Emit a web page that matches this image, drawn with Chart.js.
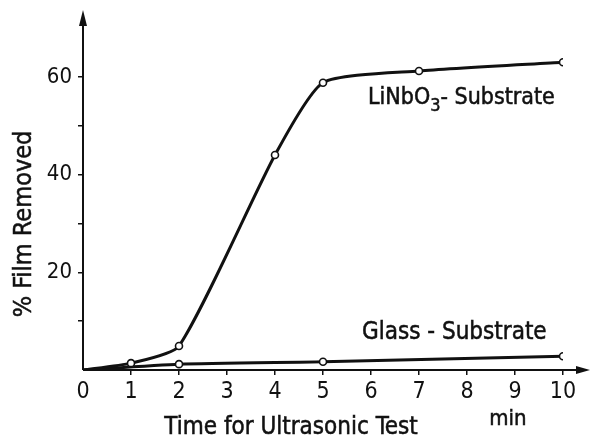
<!DOCTYPE html>
<html>
<head>
<meta charset="utf-8">
<script src="https://cdn.jsdelivr.net/npm/chart.js@4.4.1/dist/chart.umd.min.js"></script>
<style>
  html, body { margin: 0; padding: 0; background: #fff; }
  #wrap { width: 590px; height: 439px; }
</style>
</head>
<body>
<div id="wrap"><canvas id="chart"></canvas></div>
<script>
// --- DATA ---
const timeLiNbO3 = [0, 1, 2, 4, 5, 7, 10];
const removedLiNbO3 = [0, 1.4, 4.9, 44, 58.8, 61.2, 63];
const timeGlass = [0, 2, 5, 10];
const removedGlass = [0, 1.2, 1.7, 2.8];
const xTickValues = [0, 1, 2, 3, 4, 5, 6, 7, 8, 9, 10];
const yTickLabels = [20, 40, 60];

const FONT = "'DejaVu Sans Condensed', 'DejaVu Sans', sans-serif";
const INK = '#111';

function toPoints(xs, ys) {
    return xs.map((x, i) => ({ x, y: ys[i] }));
}

// hide the marker at the origin, draw open circles elsewhere
const pointRadius = ctx => (ctx.raw && ctx.raw.x === 0 ? 0 : 3.5);

// fill + thin stroke so the lettering looks as heavy as the scan
function inkText(ctx, text, x, y) {
    ctx.fillText(text, x, y);
    ctx.lineWidth = 0.5;
    ctx.strokeText(text, x, y);
}

// axes with arrows plus the free text labels
const annotations = {
    id: 'annotations',
    afterDraw(chart) {
        const { ctx, chartArea } = chart;
        const x0 = chartArea.left, y0 = chartArea.bottom;
        ctx.save();
        ctx.strokeStyle = INK;
        ctx.fillStyle = INK;
        ctx.lineWidth = 2;

        // y axis + arrow
        ctx.beginPath();
        ctx.moveTo(x0, y0);
        ctx.lineTo(x0, 16);
        ctx.stroke();
        ctx.beginPath();
        ctx.moveTo(x0, 10);
        ctx.lineTo(x0 - 4, 26);
        ctx.lineTo(x0 + 4, 26);
        ctx.closePath();
        ctx.fill();

        // x axis + arrow
        ctx.beginPath();
        ctx.moveTo(x0, y0);
        ctx.lineTo(584, y0);
        ctx.stroke();
        ctx.beginPath();
        ctx.moveTo(590, y0);
        ctx.lineTo(576, y0 - 4);
        ctx.lineTo(576, y0 + 4);
        ctx.closePath();
        ctx.fill();

        // series labels
        ctx.textBaseline = 'alphabetic';
        ctx.textAlign = 'left';
        ctx.font = `23px ${FONT}`;
        let x = 368;
        inkText(ctx, 'LiNbO', x, 104);
        x += ctx.measureText('LiNbO').width;
        ctx.font = `18px ${FONT}`;
        inkText(ctx, '3', x, 111);
        x += ctx.measureText('3').width;
        ctx.font = `23px ${FONT}`;
        inkText(ctx, '- Substrate', x, 104);

        ctx.font = `24px ${FONT}`;
        inkText(ctx, 'Glass - Substrate', 362, 339);

        // axis titles
        ctx.textAlign = 'center';
        ctx.font = `24px ${FONT}`;
        inkText(ctx, 'Time for Ultrasonic Test', 291, 434);
        ctx.font = `22px ${FONT}`;
        inkText(ctx, 'min', 508, 425);

        ctx.translate(31, 224);
        ctx.rotate(-Math.PI / 2);
        ctx.font = `25px ${FONT}`;
        inkText(ctx, '% Film Removed', 0, 0);
        ctx.restore();
    }
};

const lineStyle = {
    borderColor: INK,
    borderWidth: 3,
    pointBackgroundColor: '#fff',
    pointBorderColor: INK,
    pointBorderWidth: 1.6,
    pointRadius: pointRadius,
    tension: 0.2,
    fill: false
};

new Chart(document.getElementById('chart'), {
    type: 'line',
    data: {
        datasets: [
            { label: 'LiNbO3 - Substrate', data: toPoints(timeLiNbO3, removedLiNbO3), ...lineStyle },
            { label: 'Glass - Substrate', data: toPoints(timeGlass, removedGlass), ...lineStyle }
        ]
    },
    options: {
        responsive: true,
        maintainAspectRatio: false,
        animation: false,
        layout: { padding: { top: 28, right: 27, left: 0, bottom: 0 } },
        plugins: {
            legend: { display: false },
            tooltip: { enabled: false }
        },
        scales: {
            x: {
                type: 'linear',
                min: 0,
                max: 10,
                afterFit: scale => { scale.height = 69; },
                afterBuildTicks: scale => { scale.ticks = xTickValues.map(v => ({ value: v })); },
                border: { display: false },
                grid: {
                    drawOnChartArea: false,
                    tickLength: 5,
                    color: ctx => (ctx.tick && ctx.tick.value > 0 ? INK : 'rgba(0,0,0,0)'),
                    lineWidth: 1.5
                },
                ticks: {
                    color: INK,
                    padding: 3,
                    font: { family: FONT, size: 23 },
                    maxRotation: 0
                }
            },
            y: {
                min: 0,
                max: 70,
                afterFit: scale => { scale.width = 83; },
                border: { display: false },
                grid: {
                    drawOnChartArea: false,
                    tickLength: 5,
                    color: ctx => (ctx.tick && ctx.tick.value > 0 && ctx.tick.value < 70 ? INK : 'rgba(0,0,0,0)'),
                    lineWidth: 1.5
                },
                ticks: {
                    stepSize: 10,
                    color: INK,
                    padding: 6,
                    font: { family: FONT, size: 22 },
                    callback: v => (yTickLabels.includes(v) ? String(v) : '')
                }
            }
        }
    },
    plugins: [annotations]
});
</script>
</body>
</html>
